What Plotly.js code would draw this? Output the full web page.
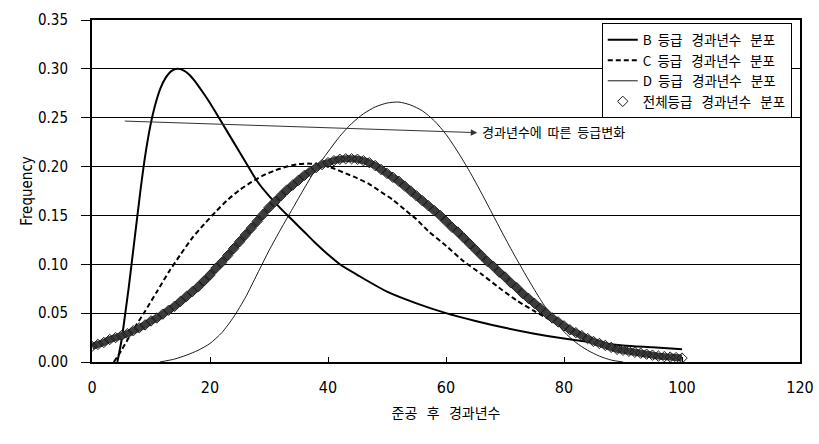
<!DOCTYPE html>
<html>
<head>
<meta charset="utf-8">
<script src="https://cdn.plot.ly/plotly-3.0.1.min.js"></script>
<style>html,body{margin:0;padding:0;background:#fff;}#chart{width:819px;height:444px;}</style>
</head>
<body>
<div id="chart"></div>
<script>
// ---- data ----
var S = '\u00a0\u00a0';
var S3 = '\u00a0\u00a0\u00a0';
var seriesNames = ['B' + S + '등급' + S3 + '경과년수' + S3 + '분포', 'C' + S + '등급' + S3 + '경과년수' + S3 + '분포', 'D' + S + '등급' + S3 + '경과년수' + S3 + '분포', '전체등급' + S3 + '경과년수' + S3 + '분포'];

var xB = [4.3, 5.0, 5.6, 6.2, 6.7, 7.2, 7.7, 8.2, 8.7, 9.3, 10.0, 10.8, 11.6, 12.5, 13.5, 14.5, 15.5, 16.5, 17.5, 18.9, 20, 22, 24, 26, 28, 30, 32, 34, 36, 38, 40, 42, 45, 50, 55, 60, 65, 70, 75, 80, 85, 90, 95, 100];
var yB = [0.000, 0.022, 0.048, 0.075, 0.100, 0.125, 0.150, 0.175, 0.198, 0.222, 0.245, 0.265, 0.280, 0.291, 0.298, 0.300, 0.2985, 0.294, 0.287, 0.275, 0.265, 0.245, 0.225, 0.205, 0.185, 0.170, 0.157, 0.145, 0.133, 0.121, 0.110, 0.100, 0.089, 0.072, 0.060, 0.050, 0.042, 0.035, 0.029, 0.024, 0.020, 0.017, 0.015, 0.013];

var xC = [3.7, 5, 7, 9, 11, 13, 15, 17, 19, 21, 23, 25, 27, 29, 31, 33, 35, 37, 39, 41, 43, 45, 47, 49, 51, 53, 55, 57, 60, 63, 66, 69, 72, 75, 78, 81, 84, 87, 90, 95, 100];
var yC = [0.000, 0.012, 0.033, 0.052, 0.072, 0.092, 0.110, 0.127, 0.141, 0.154, 0.166, 0.176, 0.184, 0.191, 0.196, 0.200, 0.2025, 0.203, 0.2015, 0.198, 0.193, 0.188, 0.182, 0.174, 0.166, 0.156, 0.146, 0.134, 0.119, 0.103, 0.090, 0.076, 0.063, 0.052, 0.042, 0.032, 0.023, 0.016, 0.011, 0.006, 0.004];

var xD = [11.5, 14, 16, 18, 20, 22, 24, 26, 28, 30, 32, 34, 36, 38, 40, 42, 44, 46, 48, 50, 52, 54, 56, 58, 60, 62, 64, 66, 68, 70, 72, 74, 76, 78, 80, 82, 84, 86, 88, 90];
var yD = [0.000, 0.003, 0.007, 0.012, 0.019, 0.030, 0.046, 0.066, 0.090, 0.114, 0.136, 0.157, 0.178, 0.198, 0.215, 0.231, 0.244, 0.254, 0.261, 0.265, 0.266, 0.263, 0.257, 0.247, 0.233, 0.215, 0.195, 0.173, 0.150, 0.127, 0.105, 0.084, 0.064, 0.046, 0.031, 0.020, 0.012, 0.006, 0.002, 0.000];

var xAll = [0,1,2,3,4,5,6,7,8,9,10,11,12,13,14,15,16,17,18,19,20,21,22,23,24,25,26,27,28,29,30,31,32,33,34,35,36,37,38,39,40,41,42,43,44,45,46,47,48,49,50,51,52,53,54,55,56,57,58,59,60,61,62,63,64,65,66,67,68,69,70,71,72,73,74,75,76,77,78,79,80,81,82,83,84,85,86,87,88,89,90,91,92,93,94,95,96,97,98,99,100];
var yAll = [0.016,0.018,0.020,0.023,0.025,0.027,0.029,0.032,0.035,0.038,0.042,0.045,0.049,0.053,0.057,0.062,0.067,0.072,0.077,0.083,0.089,0.096,0.102,0.109,0.116,0.123,0.130,0.137,0.144,0.151,0.158,0.164,0.170,0.176,0.181,0.186,0.191,0.195,0.199,0.202,0.204,0.206,0.2075,0.208,0.208,0.2075,0.206,0.204,0.201,0.197,0.193,0.189,0.185,0.180,0.175,0.170,0.165,0.160,0.155,0.150,0.144,0.138,0.133,0.127,0.121,0.115,0.109,0.103,0.098,0.092,0.087,0.081,0.076,0.070,0.065,0.060,0.055,0.050,0.045,0.041,0.037,0.033,0.030,0.027,0.024,0.021,0.019,0.017,0.015,0.013,0.012,0.011,0.010,0.009,0.008,0.007,0.006,0.0055,0.005,0.0045,0.004];

var xTicks = [0, 20, 40, 60, 80, 100, 120];
var yTicks = [0, 0.05, 0.10, 0.15, 0.20, 0.25, 0.30, 0.35];
var xTitle = '준공' + S3 + '후' + S3 + '경과년수';
var yTitle = 'Frequency';
var noteText = '경과년수에' + S + '따른' + S + '등급변화';
var noteTail = [5.3, 0.2466];
var noteHead = [65.3, 0.2347];

var numFont = 'Liberation Sans Narrow, DejaVu Sans Condensed, Arial Narrow, sans-serif';
var korFont = 'Noto Sans CJK KR, sans-serif';

var traces = [
  {x: xB, y: yB, name: seriesNames[0], mode: 'lines', type: 'scatter', legendgroup: 'b',
   line: {color: '#000', width: 2, shape: 'spline', smoothing: 0.7}},
  {x: xC, y: yC, name: seriesNames[1], mode: 'lines', type: 'scatter', legendgroup: 'c',
   line: {color: '#000', width: 2, dash: '5px,3px', shape: 'spline', smoothing: 0.7}},
  {x: xD, y: yD, name: seriesNames[2], mode: 'lines', type: 'scatter', legendgroup: 'd',
   line: {color: '#000', width: 0.9, shape: 'spline', smoothing: 0.7}},
  {x: xAll, y: yAll, name: seriesNames[3], mode: 'lines', type: 'scatter', legendgroup: 'a', showlegend: false,
   line: {color: '#3c3c3c', width: 7, shape: 'spline', smoothing: 0.7}, hoverinfo: 'skip'},
  {x: xAll, y: yAll, name: seriesNames[3], mode: 'markers', type: 'scatter', legendgroup: 'a',
   marker: {symbol: 'diamond-open', size: 8, color: '#1a1a1a', line: {width: 1, color: '#1a1a1a'}}}
];

var layout = {
  width: 819, height: 444,
  margin: {l: 92, r: 19, t: 20, b: 82, pad: 0},
  paper_bgcolor: '#fff', plot_bgcolor: '#fff',
  showlegend: true,
  font: {family: numFont, size: 15, color: '#000'},
  xaxis: {
    range: [0, 120], tickvals: xTicks, ticktext: xTicks.map(String),
    showgrid: false, zeroline: false,
    showline: true, mirror: true, linecolor: '#000', linewidth: 2,
    ticks: 'inside', ticklen: 5, tickwidth: 1, tickcolor: '#000',
    ticklabelstandoff: 10,
    tickfont: {family: numFont, size: 16, color: '#000'},
    title: {text: xTitle, font: {family: korFont, size: 14, color: '#000'}, standoff: 12}
  },
  yaxis: {
    range: [0, 0.35], tickvals: yTicks, ticktext: yTicks.map(function(v){return v.toFixed(2);}),
    showgrid: true, gridcolor: '#000', gridwidth: 1, zeroline: false,
    showline: true, mirror: true, linecolor: '#000', linewidth: 2,
    ticks: 'outside', ticklen: 9, tickwidth: 1, tickcolor: '#000',
    ticklabelstandoff: 10,
    tickfont: {family: numFont, size: 15, color: '#000'},
    title: {text: yTitle, font: {family: numFont, size: 15, color: '#000'}, standoff: 2}
  },
  legend: {
    x: 0.72, y: 0.99, xanchor: 'left', yanchor: 'top',
    bgcolor: '#fff', bordercolor: '#000', borderwidth: 1,
    font: {family: korFont, size: 13.5, color: '#000'},
    tracegroupgap: 1, traceorder: 'normal'
  },
  annotations: [
    {x: noteHead[0], y: noteHead[1], ax: noteTail[0], ay: noteTail[1], xref: 'x', yref: 'y', axref: 'x', ayref: 'y',
     text: '', showarrow: true, arrowhead: 2, arrowsize: 1.3, arrowwidth: 1, arrowcolor: '#333', standoff: 0},
    {x: noteHead[0] + 0.5, y: noteHead[1] + 0.001, xref: 'x', yref: 'y', xanchor: 'left', yanchor: 'middle',
     text: noteText, showarrow: false, font: {family: korFont, size: 13, color: '#000'}}
  ]
};

Plotly.newPlot('chart', traces, layout, {displayModeBar: false, staticPlot: true});
</script>
</body>
</html>
